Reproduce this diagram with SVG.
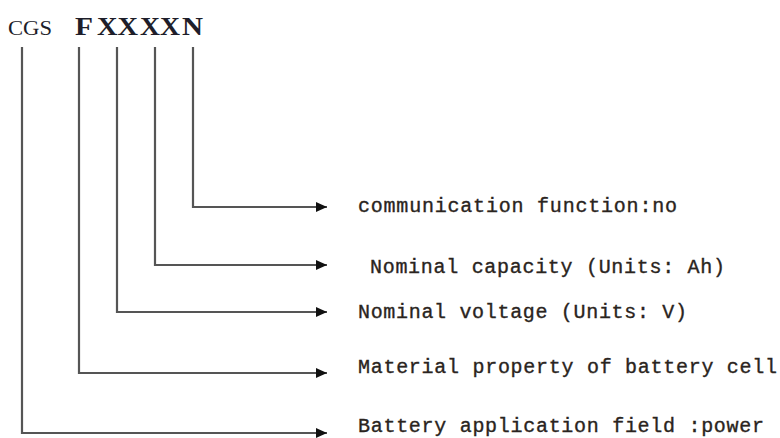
<svg xmlns="http://www.w3.org/2000/svg" width="780" height="438" viewBox="0 0 780 438">
<style>
.hdr{font-family:"Liberation Serif","Times New Roman",serif;fill:#1e1e2a;font-weight:bold}
.hdr.small{font-weight:normal}
.lbl{font-family:"Liberation Mono","Courier New",monospace;font-size:20px;fill:#2a2420;stroke:#2a2420;stroke-width:0.35}
.conn{fill:none;stroke:#555;stroke-width:2.2}
</style>
<defs>
<marker id="ah" markerUnits="userSpaceOnUse" markerWidth="12" markerHeight="10" refX="11" refY="5" orient="auto">
<path d="M0,0 L11,5 L0,10 Z" fill="#111"/>
</marker>
</defs>
<rect width="780" height="438" fill="#fff"/>
<g id="code">
<text class="hdr small" x="8" y="35" font-size="20" textLength="44" lengthAdjust="spacingAndGlyphs">CGS</text>
<text class="hdr" x="75" y="35" font-size="26" textLength="18" lengthAdjust="spacingAndGlyphs">F</text>
<text class="hdr" x="97" y="35" font-size="26" textLength="41" lengthAdjust="spacingAndGlyphs">XX</text>
<text class="hdr" x="140" y="35" font-size="26" textLength="40" lengthAdjust="spacingAndGlyphs">XX</text>
<text class="hdr" x="182" y="35" font-size="26" textLength="21" lengthAdjust="spacingAndGlyphs">N</text>
</g>
<g id="connectors">
<path class="conn" d="M193,47 V207 H327" marker-end="url(#ah)"/>
<path class="conn" d="M155,47 V265 H327" marker-end="url(#ah)"/>
<path class="conn" d="M117,47 V312 H327" marker-end="url(#ah)"/>
<path class="conn" d="M79,47 V373 H327" marker-end="url(#ah)"/>
<path class="conn" d="M22,47 V433 H327" marker-end="url(#ah)"/>
</g>
<g id="label-communication">
<text class="lbl" x="358" y="212" textLength="319" lengthAdjust="spacing">communication function:no</text>
</g>
<g id="label-capacity">
<text class="lbl" x="370" y="273" textLength="355" lengthAdjust="spacing">Nominal capacity (Units: Ah)</text>
</g>
<g id="label-voltage">
<text class="lbl" x="358" y="318" textLength="329" lengthAdjust="spacing">Nominal voltage (Units: V)</text>
</g>
<g id="label-material">
<text class="lbl" x="358" y="373" textLength="419" lengthAdjust="spacing">Material property of battery cell</text>
</g>
<g id="label-field">
<text class="lbl" x="358" y="432" textLength="406" lengthAdjust="spacing">Battery application field :power</text>
</g>
</svg>
